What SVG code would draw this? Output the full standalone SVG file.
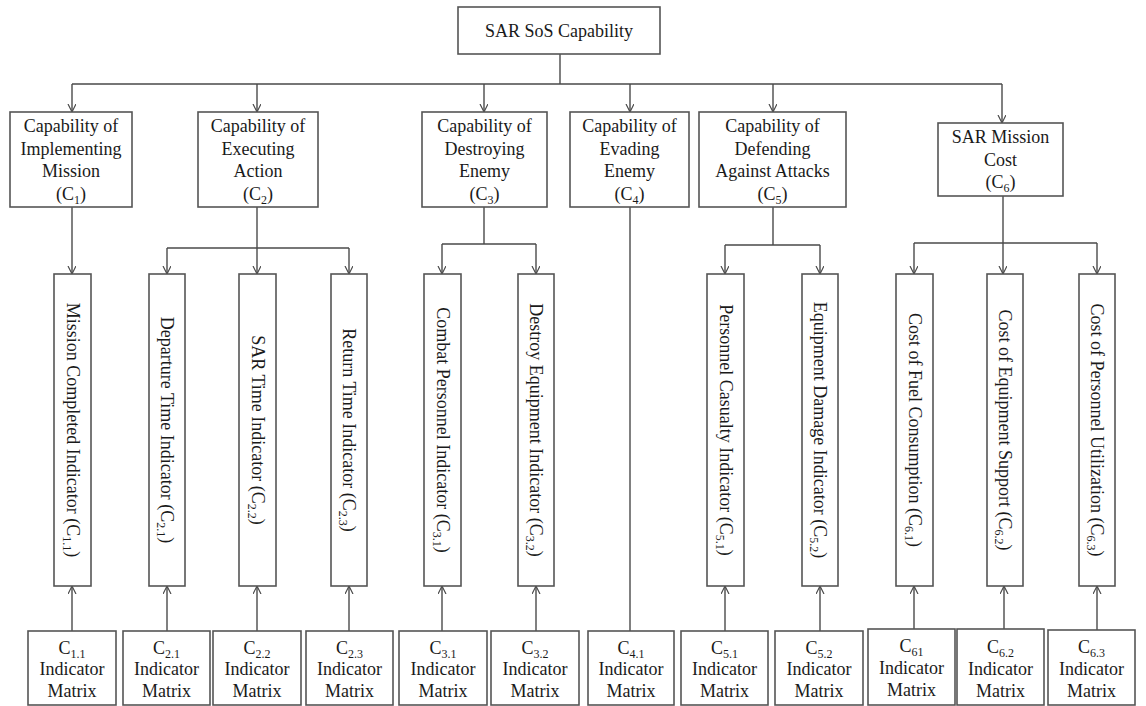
<svg xmlns="http://www.w3.org/2000/svg" width="1146" height="706" viewBox="0 0 1146 706">
  <defs>
    <marker id="arrow" markerUnits="userSpaceOnUse" markerWidth="10" markerHeight="10" refX="8" refY="4" orient="auto">
      <path d="M0,0 L8,4 L0,8" fill="none" stroke="#4a4a4a" stroke-width="1.2"/>
    </marker>
  </defs>
  <style>
    .box { fill: #fff; stroke: #555; stroke-width: 1.6; }
    .t { font-family: "Liberation Serif", "Times New Roman", serif; font-size: 18px; fill: #1a1a1a; text-anchor: middle; }
    .sub { font-size: 12px; }
    .ln { fill: none; stroke: #4a4a4a; stroke-width: 1.4; }
    .ar { marker-end: url(#arrow); }
  </style>
  <rect width="1146" height="706" fill="#fff"/>

  <!-- connectors -->
  <g id="connectors">
    <!-- root to level 1 -->
    <path class="ln" d="M560,54 V84 M72,84 H1002"/>
    <path class="ln ar" d="M72,84 V112"/>
    <path class="ln ar" d="M257,84 V112"/>
    <path class="ln ar" d="M484,84 V112"/>
    <path class="ln ar" d="M630,84 V112"/>
    <path class="ln ar" d="M773,84 V112"/>
    <path class="ln ar" d="M1002,84 V123"/>

    <!-- C1 -->
    <path class="ln ar" d="M72,207 V274"/>
    <!-- C2 -->
    <path class="ln ar" d="M257,207 V274"/>
    <path class="ln" d="M167,248 H349"/>
    <path class="ln ar" d="M167,248 V274"/>
    <path class="ln ar" d="M349,248 V274"/>
    <!-- C3 -->
    <path class="ln" d="M484,207 V244 M442,244 H536"/>
    <path class="ln ar" d="M442,244 V274"/>
    <path class="ln ar" d="M536,244 V274"/>
    <!-- C4 -->
    <path class="ln" d="M630,207 V631"/>
    <!-- C5 -->
    <path class="ln" d="M773,207 V245 M725,245 H820"/>
    <path class="ln ar" d="M725,245 V274"/>
    <path class="ln ar" d="M820,245 V274"/>
    <!-- C6 -->
    <path class="ln ar" d="M1003,196 V274"/>
    <path class="ln" d="M914,243 H1097"/>
    <path class="ln ar" d="M914,243 V274"/>
    <path class="ln ar" d="M1097,243 V274"/>

    <!-- indicator matrices to indicators -->
    <path class="ln ar" d="M72,631 V586"/>
    <path class="ln ar" d="M167,631 V586"/>
    <path class="ln ar" d="M257,631 V586"/>
    <path class="ln ar" d="M349,631 V586"/>
    <path class="ln ar" d="M442,631 V586"/>
    <path class="ln ar" d="M536,631 V586"/>
    <path class="ln ar" d="M725,631 V586"/>
    <path class="ln ar" d="M820,631 V586"/>
    <path class="ln ar" d="M914,629 V586"/>
    <path class="ln ar" d="M1004,629 V586"/>
    <path class="ln ar" d="M1097,630 V586"/>
  </g>

  <!-- root -->
  <g id="root">
    <rect class="box" x="458" y="7" width="202" height="47"/>
    <text class="t" x="559" y="37">SAR SoS Capability</text>
  </g>

  <!-- level 1 -->
  <g id="c1">
    <rect class="box" x="10" y="112" width="122" height="95"/>
    <text class="t" x="71" y="132">Capability of</text>
    <text class="t" x="71" y="154.5">Implementing</text>
    <text class="t" x="71" y="177">Mission</text>
    <text class="t" x="71" y="199.5">(C<tspan class="sub" dy="4">1</tspan><tspan dy="-4">)</tspan></text>
  </g>
  <g id="c2">
    <rect class="box" x="198" y="112" width="120" height="95"/>
    <text class="t" x="258" y="132">Capability of</text>
    <text class="t" x="258" y="154.5">Executing</text>
    <text class="t" x="258" y="177">Action</text>
    <text class="t" x="258" y="199.5">(C<tspan class="sub" dy="4">2</tspan><tspan dy="-4">)</tspan></text>
  </g>
  <g id="c3">
    <rect class="box" x="422" y="112" width="125" height="95"/>
    <text class="t" x="484.5" y="132">Capability of</text>
    <text class="t" x="484.5" y="154.5">Destroying</text>
    <text class="t" x="484.5" y="177">Enemy</text>
    <text class="t" x="484.5" y="199.5">(C<tspan class="sub" dy="4">3</tspan><tspan dy="-4">)</tspan></text>
  </g>
  <g id="c4">
    <rect class="box" x="570" y="112" width="119" height="95"/>
    <text class="t" x="629.5" y="132">Capability of</text>
    <text class="t" x="629.5" y="154.5">Evading</text>
    <text class="t" x="629.5" y="177">Enemy</text>
    <text class="t" x="629.5" y="199.5">(C<tspan class="sub" dy="4">4</tspan><tspan dy="-4">)</tspan></text>
  </g>
  <g id="c5">
    <rect class="box" x="699" y="112" width="147" height="95"/>
    <text class="t" x="772.5" y="132">Capability of</text>
    <text class="t" x="772.5" y="154.5">Defending</text>
    <text class="t" x="772.5" y="177">Against Attacks</text>
    <text class="t" x="772.5" y="199.5">(C<tspan class="sub" dy="4">5</tspan><tspan dy="-4">)</tspan></text>
  </g>
  <g id="c6">
    <rect class="box" x="938" y="123" width="125" height="73"/>
    <text class="t" x="1000.5" y="143">SAR Mission</text>
    <text class="t" x="1000.5" y="166">Cost</text>
    <text class="t" x="1000.5" y="188">(C<tspan class="sub" dy="4">6</tspan><tspan dy="-4">)</tspan></text>
  </g>

  <!-- indicators (vertical) -->
  <g id="c1-1">
    <rect class="box" x="54" y="274" width="37" height="312"/>
    <text class="t" transform="translate(72.5,430) rotate(90)" y="6">Mission Completed Indicator (C<tspan class="sub" dy="4">1.1</tspan><tspan dy="-4">)</tspan></text>
  </g>
  <g id="c2-1">
    <rect class="box" x="149" y="274" width="36" height="312"/>
    <text class="t" transform="translate(167,430) rotate(90)" y="6">Departure Time Indicator (C<tspan class="sub" dy="4">2.1</tspan><tspan dy="-4">)</tspan></text>
  </g>
  <g id="c2-2">
    <rect class="box" x="239" y="274" width="37" height="312"/>
    <text class="t" transform="translate(257.5,430) rotate(90)" y="6">SAR Time Indicator (C<tspan class="sub" dy="4">2.2</tspan><tspan dy="-4">)</tspan></text>
  </g>
  <g id="c2-3">
    <rect class="box" x="331" y="274" width="36" height="312"/>
    <text class="t" transform="translate(349,430) rotate(90)" y="6">Return Time Indicator (C<tspan class="sub" dy="4">2.3</tspan><tspan dy="-4">)</tspan></text>
  </g>
  <g id="c3-1">
    <rect class="box" x="424" y="274" width="37" height="312"/>
    <text class="t" transform="translate(442.5,430) rotate(90)" y="6">Combat Personnel Indicator (C<tspan class="sub" dy="4">3.1</tspan><tspan dy="-4">)</tspan></text>
  </g>
  <g id="c3-2">
    <rect class="box" x="518" y="274" width="36" height="312"/>
    <text class="t" transform="translate(536,430) rotate(90)" y="6">Destroy Equipment Indicator (C<tspan class="sub" dy="4">3.2</tspan><tspan dy="-4">)</tspan></text>
  </g>
  <g id="c5-1">
    <rect class="box" x="707" y="274" width="37" height="312"/>
    <text class="t" transform="translate(725.5,430) rotate(90)" y="6">Personnel Casualty Indicator (C<tspan class="sub" dy="4">5.1</tspan><tspan dy="-4">)</tspan></text>
  </g>
  <g id="c5-2">
    <rect class="box" x="802" y="274" width="36" height="312"/>
    <text class="t" transform="translate(820,430) rotate(90)" y="6">Equipment Damage Indicator (C<tspan class="sub" dy="4">5.2</tspan><tspan dy="-4">)</tspan></text>
  </g>
  <g id="c6-1">
    <rect class="box" x="896" y="274" width="37" height="312"/>
    <text class="t" transform="translate(914.5,430) rotate(90)" y="6">Cost of Fuel Consumption (C<tspan class="sub" dy="4">6.1</tspan><tspan dy="-4">)</tspan></text>
  </g>
  <g id="c6-2">
    <rect class="box" x="987" y="274" width="36" height="312"/>
    <text class="t" transform="translate(1005,430) rotate(90)" y="6">Cost of Equipment Support (C<tspan class="sub" dy="4">6.2</tspan><tspan dy="-4">)</tspan></text>
  </g>
  <g id="c6-3">
    <rect class="box" x="1079" y="274" width="36" height="312"/>
    <text class="t" transform="translate(1097,430) rotate(90)" y="6">Cost of Personnel Utilization (C<tspan class="sub" dy="4">6.3</tspan><tspan dy="-4">)</tspan></text>
  </g>

  <!-- indicator matrices -->
  <g id="m1-1">
    <rect class="box" x="28" y="631" width="88" height="74"/>
    <text class="t" x="72" y="654">C<tspan class="sub" dy="4">1.1</tspan></text>
    <text class="t" x="72" y="675">Indicator</text>
    <text class="t" x="72" y="697">Matrix</text>
  </g>
  <g id="m2-1">
    <rect class="box" x="123" y="631" width="87" height="74"/>
    <text class="t" x="166.5" y="654">C<tspan class="sub" dy="4">2.1</tspan></text>
    <text class="t" x="166.5" y="675">Indicator</text>
    <text class="t" x="166.5" y="697">Matrix</text>
  </g>
  <g id="m2-2">
    <rect class="box" x="213" y="631" width="88" height="74"/>
    <text class="t" x="257" y="654">C<tspan class="sub" dy="4">2.2</tspan></text>
    <text class="t" x="257" y="675">Indicator</text>
    <text class="t" x="257" y="697">Matrix</text>
  </g>
  <g id="m2-3">
    <rect class="box" x="306" y="631" width="87" height="74"/>
    <text class="t" x="349.5" y="654">C<tspan class="sub" dy="4">2.3</tspan></text>
    <text class="t" x="349.5" y="675">Indicator</text>
    <text class="t" x="349.5" y="697">Matrix</text>
  </g>
  <g id="m3-1">
    <rect class="box" x="399" y="631" width="88" height="74"/>
    <text class="t" x="443" y="654">C<tspan class="sub" dy="4">3.1</tspan></text>
    <text class="t" x="443" y="675">Indicator</text>
    <text class="t" x="443" y="697">Matrix</text>
  </g>
  <g id="m3-2">
    <rect class="box" x="491" y="631" width="88" height="74"/>
    <text class="t" x="535" y="654">C<tspan class="sub" dy="4">3.2</tspan></text>
    <text class="t" x="535" y="675">Indicator</text>
    <text class="t" x="535" y="697">Matrix</text>
  </g>
  <g id="m4-1">
    <rect class="box" x="588" y="631" width="86" height="74"/>
    <text class="t" x="631" y="654">C<tspan class="sub" dy="4">4.1</tspan></text>
    <text class="t" x="631" y="675">Indicator</text>
    <text class="t" x="631" y="697">Matrix</text>
  </g>
  <g id="m5-1">
    <rect class="box" x="681" y="631" width="87" height="74"/>
    <text class="t" x="724.5" y="654">C<tspan class="sub" dy="4">5.1</tspan></text>
    <text class="t" x="724.5" y="675">Indicator</text>
    <text class="t" x="724.5" y="697">Matrix</text>
  </g>
  <g id="m5-2">
    <rect class="box" x="775" y="631" width="88" height="74"/>
    <text class="t" x="819" y="654">C<tspan class="sub" dy="4">5.2</tspan></text>
    <text class="t" x="819" y="675">Indicator</text>
    <text class="t" x="819" y="697">Matrix</text>
  </g>
  <g id="m6-1">
    <rect class="box" x="868" y="629" width="87" height="76"/>
    <text class="t" x="911.5" y="652">C<tspan class="sub" dy="4">61</tspan></text>
    <text class="t" x="911.5" y="674">Indicator</text>
    <text class="t" x="911.5" y="696">Matrix</text>
  </g>
  <g id="m6-2">
    <rect class="box" x="957" y="629" width="87" height="76"/>
    <text class="t" x="1000.5" y="653">C<tspan class="sub" dy="4">6.2</tspan></text>
    <text class="t" x="1000.5" y="675">Indicator</text>
    <text class="t" x="1000.5" y="697">Matrix</text>
  </g>
  <g id="m6-3">
    <rect class="box" x="1048" y="630" width="87" height="75"/>
    <text class="t" x="1091.5" y="653">C<tspan class="sub" dy="4">6.3</tspan></text>
    <text class="t" x="1091.5" y="675">Indicator</text>
    <text class="t" x="1091.5" y="697">Matrix</text>
  </g>
</svg>
